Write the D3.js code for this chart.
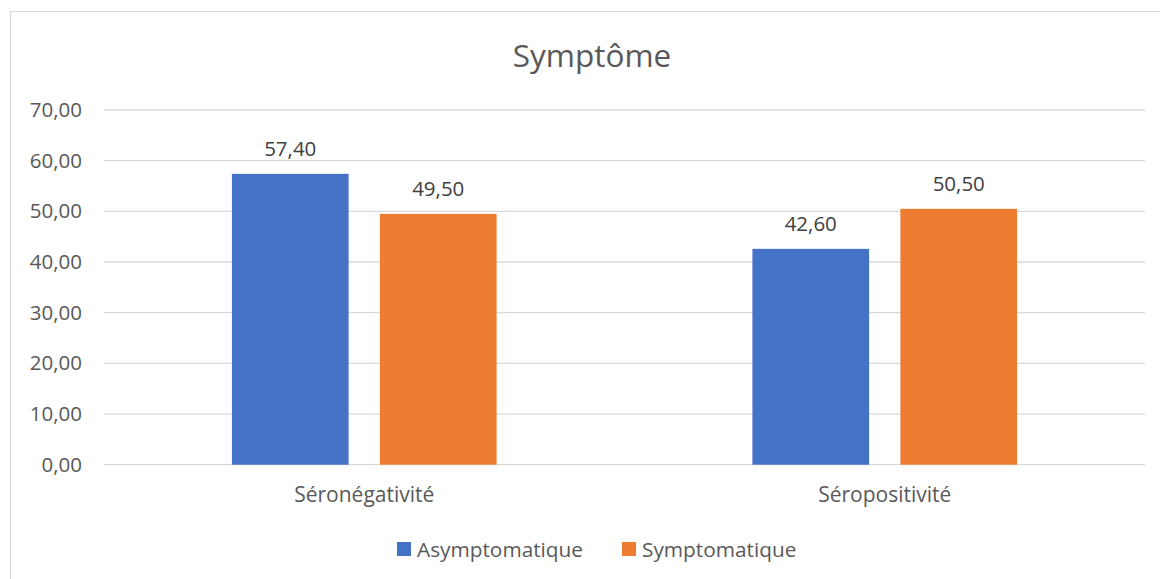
<!DOCTYPE html>
<html>
<head>
<meta charset="utf-8">
<script src="https://cdn.jsdelivr.net/npm/d3@7"></script>
<style>
  body { margin: 0; background: #fff; }
  text { font-family: "Open Sans", sans-serif; }
</style>
</head>
<body>
<svg id="chart" width="1160" height="579"></svg>
<script>
const categories = ["Séronégativité", "Séropositivité"];
const seriesNames = ["Asymptomatique", "Symptomatique"];
const asymptomatique = [57.40, 42.60];
const symptomatique = [49.50, 50.50];
const yTicks = [0, 10, 20, 30, 40, 50, 60, 70];
const colors = ["#4472c4", "#ed7d31"];

const svg = d3.select("#chart");
const fmt = v => d3.format(".2f")(v).replace(".", ",");

// chart frame
svg.append("rect")
    .attr("x", 10.5).attr("y", 11.5)
    .attr("width", 1170).attr("height", 600)
    .attr("fill", "#fff")
    .attr("stroke", "#d9d9d9");

const scale = {
    x: d3.scaleBand().domain(categories).range([104, 1145]).paddingInner(0.4915).paddingOuter(0.24575),
    y: d3.scaleLinear().domain([0, 70]).range([464.7, 110])
};
const x1 = d3.scaleBand().domain(seriesNames).range([0, scale.x.bandwidth()]).paddingInner(0.2115);

// gridlines
svg.selectAll(".grid")
    .data(yTicks)
    .enter()
    .append("line")
    .attr("x1", 104).attr("x2", 1145)
    .attr("y1", d => scale.y(d)).attr("y2", d => scale.y(d))
    .attr("stroke", "#d9d9d9")
    .attr("stroke-width", 1.3);

// y labels
svg.selectAll(".ylab")
    .data(yTicks)
    .enter()
    .append("text")
    .attr("x", 82)
    .attr("y", d => scale.y(d) + 7)
    .attr("text-anchor", "end")
    .attr("font-size", 20.5)
    .attr("fill", "#595959")
    .text(d => fmt(d));

const rows = categories.map((c, i) => ({
    cat: c,
    vals: [
        { s: seriesNames[0], v: asymptomatique[i], c: colors[0] },
        { s: seriesNames[1], v: symptomatique[i], c: colors[1] }
    ]
}));

const groups = svg.selectAll(".grp")
    .data(rows)
    .enter()
    .append("g")
    .attr("transform", d => `translate(${scale.x(d.cat)},0)`);

groups.selectAll("rect")
    .data(d => d.vals)
    .enter()
    .append("rect")
    .attr("x", d => x1(d.s))
    .attr("y", d => scale.y(d.v))
    .attr("width", x1.bandwidth())
    .attr("height", d => scale.y(0) - scale.y(d.v))
    .attr("fill", d => d.c);

groups.selectAll(".lbl")
    .data(d => d.vals)
    .enter()
    .append("text")
    .attr("x", d => x1(d.s) + x1.bandwidth() / 2)
    .attr("y", d => scale.y(d.v) - 18)
    .attr("text-anchor", "middle")
    .attr("font-size", 20.5)
    .attr("fill", "#404040")
    .text(d => fmt(d.v));

// category labels
svg.selectAll(".xlab")
    .data(categories)
    .enter()
    .append("text")
    .attr("x", d => scale.x(d) + scale.x.bandwidth() / 2)
    .attr("y", 502)
    .attr("text-anchor", "middle")
    .attr("font-size", 21)
    .attr("fill", "#595959")
    .text(d => d);

// title
svg.append("text")
    .attr("x", 592).attr("y", 67)
    .attr("text-anchor", "middle")
    .attr("font-size", 31.5)
    .attr("fill", "#595959")
    .text("Symptôme");

// legend
const legendX = [397, 622];
seriesNames.forEach((s, i) => {
    svg.append("rect")
        .attr("x", legendX[i]).attr("y", 542)
        .attr("width", 14).attr("height", 14)
        .attr("fill", colors[i]);
    svg.append("text")
        .attr("x", legendX[i] + 20).attr("y", 557)
        .attr("font-size", 20.8)
        .attr("fill", "#595959")
        .text(s);
});
</script>
</body>
</html>
